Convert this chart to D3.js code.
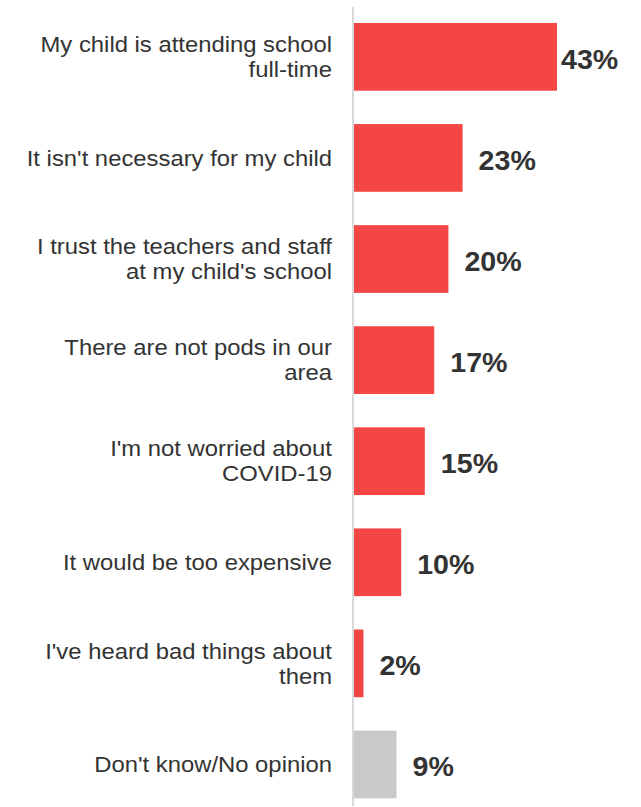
<!DOCTYPE html>
<html>
<head>
<meta charset="utf-8">
<script src="https://cdn.jsdelivr.net/npm/d3@7"></script>
<style>
  html, body { margin: 0; padding: 0; background: #fff; }
  svg { display: block; }
</style>
</head>
<body>
<div id="chart"></div>
<script>
// Reasons parents give for not joining a learning pod
const categories = [
  ["My child is attending school", "full-time"],
  ["It isn't necessary for my child"],
  ["I trust the teachers and staff", "at my child's school"],
  ["There are not pods in our", "area"],
  ["I'm not worried about", "COVID-19"],
  ["It would be too expensive"],
  ["I've heard bad things about", "them"],
  ["Don't know/No opinion"]
];
const values = [43, 23, 20, 17, 15, 10, 2, 9];
const barColors = ["#f54646", "#f54646", "#f54646", "#f54646", "#f54646", "#f54646", "#f54646", "#c9c9c9"];

const width = 641, height = 807;
const svg = d3.select("#chart").append("svg")
  .attr("width", width).attr("height", height);

const idx = d3.range(values.length);
const y = d3.scaleBand().domain(idx).range([6.3, 815]).paddingInner(0.33).paddingOuter(0.165);
const x = d3.scaleLinear().domain([0, 43]).range([354, 557]);

// bars
svg.append("g").selectAll("rect").data(idx).join("rect")
  .attr("x", x(0))
  .attr("y", i => y(i))
  .attr("width", i => x(values[i]) - x(0))
  .attr("height", y.bandwidth())
  .attr("fill", i => barColors[i]);

// baseline axis
svg.append("line")
  .attr("x1", 353).attr("x2", 353)
  .attr("y1", 7).attr("y2", 806)
  .attr("stroke", "#d9d9d9").attr("stroke-width", 2);

// category labels (slightly widened type)
const fontFam = "Arial, 'Liberation Sans', sans-serif";
const stretch = 1.06;
const lineH = 25;
const labels = svg.append("g")
  .attr("transform", `translate(332,0) scale(${stretch},1)`)
  .attr("font-family", fontFam)
  .attr("font-size", 22.5)
  .attr("fill", "#333")
  .attr("text-anchor", "end");
idx.forEach(i => {
  const lines = categories[i];
  const cy = y(i) + y.bandwidth() / 2;
  const t = labels.append("text");
  lines.forEach((ln, k) => {
    t.append("tspan")
      .attr("x", 0)
      .attr("y", cy + (k - (lines.length - 1) / 2) * lineH)
      .attr("dy", "0.34em")
      .text(ln);
  });
});

// value labels
svg.append("g").selectAll("g").data(idx).join("g")
  .attr("transform", i => `translate(${Math.min(x(values[i]) + 16, 561)},${y(i) + y.bandwidth() / 2 + 2.5}) scale(${stretch},1)`)
  .append("text")
  .attr("font-family", fontFam)
  .attr("font-size", 27)
  .attr("font-weight", "bold")
  .attr("fill", "#333")
  .attr("dy", "0.35em")
  .text(i => values[i] + "%");
</script>
</body>
</html>
